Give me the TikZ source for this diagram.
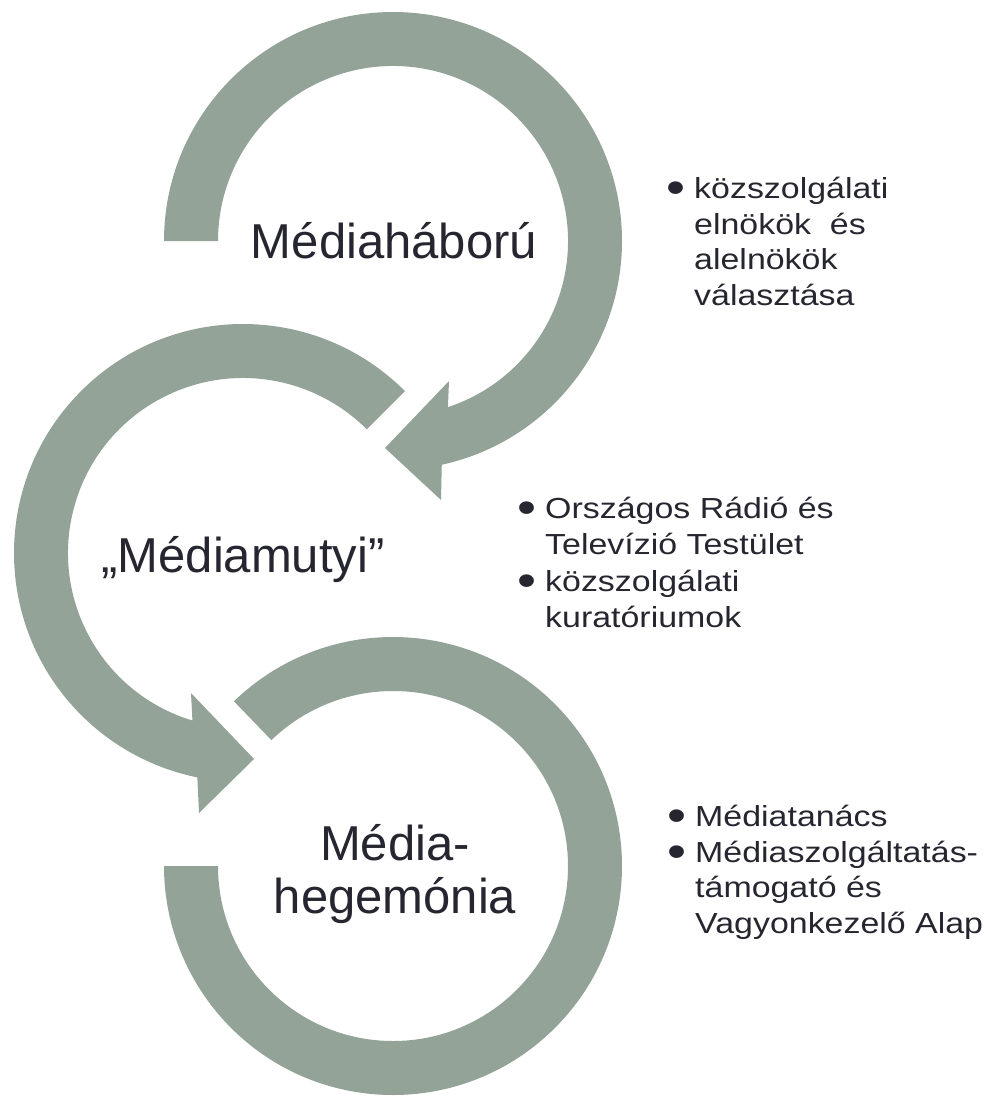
\documentclass[tikz,border=0pt]{standalone}
\usepackage{fontspec}
\setmainfont{Liberation Sans}
\newfontfamily\sidefont[FakeStretch=1.17]{Liberation Sans}
\definecolor{ringgray}{RGB}{147,163,152}
\definecolor{textdark}{RGB}{38,38,48}
\newcommand{\bulletmark}{\llap{\raisebox{-5pt}{\scalebox{1.6}{•}}\hspace{9pt}}}
\begin{document}
\begin{tikzpicture}[x=1pt, y=1pt,
  ring/.style={fill=ringgray, draw=none},
  big label/.style={text=textdark, font=\fontsize{49}{53}\selectfont, align=center, inner sep=0pt},
  side text/.style={text=textdark, font=\sidefont\fontsize{29}{35.5}\selectfont, align=left, inner sep=0pt, anchor=base west}]
\clip (0,0) rectangle (989,-1096);
% rings
\begin{scope}[shift={(393,-241)}]
\fill[ring] (180:229) arc[start angle=180, end angle=-77.7, radius=229] -- (48,-259) -- (-8,-207) -- (56,-140) -- (-71.7:175) arc[start angle=-71.7, end angle=180, radius=175] -- cycle;
\end{scope}
\begin{scope}[shift={(243,-553)}]
\fill[ring] (45:229) arc[start angle=45, end angle=258.5, radius=229] -- (-44,-260) -- (11,-206) -- (-52,-140) -- (253.2:175) arc[start angle=253.2, end angle=45, radius=175] -- cycle;
\end{scope}
\begin{scope}[shift={(393,-866)}]
\fill[ring] (134:229) arc[start angle=134, end angle=-180, radius=229] -- (180:175) arc[start angle=-180, end angle=134, radius=175] -- cycle;
\end{scope}
% labels
\node[big label, anchor=base] (t1) at (394,-258) {Médiaháború};
\node[big label, anchor=base] (t2) at (243,-572) {„Médiamutyi”};
\node[big label, anchor=base] (t3) at (395,-913) {Média-\\hegemónia};
% bullet lists (anchored at the last baseline)
\node[side text] (b1) at (694,-305) {\bulletmark közszolgálati\\elnökök\ \ és\\alelnökök\\választása};
\node[side text] (b2) at (545,-627) {\bulletmark Országos Rádió és\\Televízió Testület\\[2pt]\bulletmark közszolgálati\\kuratóriumok};
\node[side text] (b3) at (695,-933) {\bulletmark Médiatanács\\\bulletmark Médiaszolgáltatás-\\támogató és\\Vagyonkezelő Alap};
\end{tikzpicture}
\end{document}
